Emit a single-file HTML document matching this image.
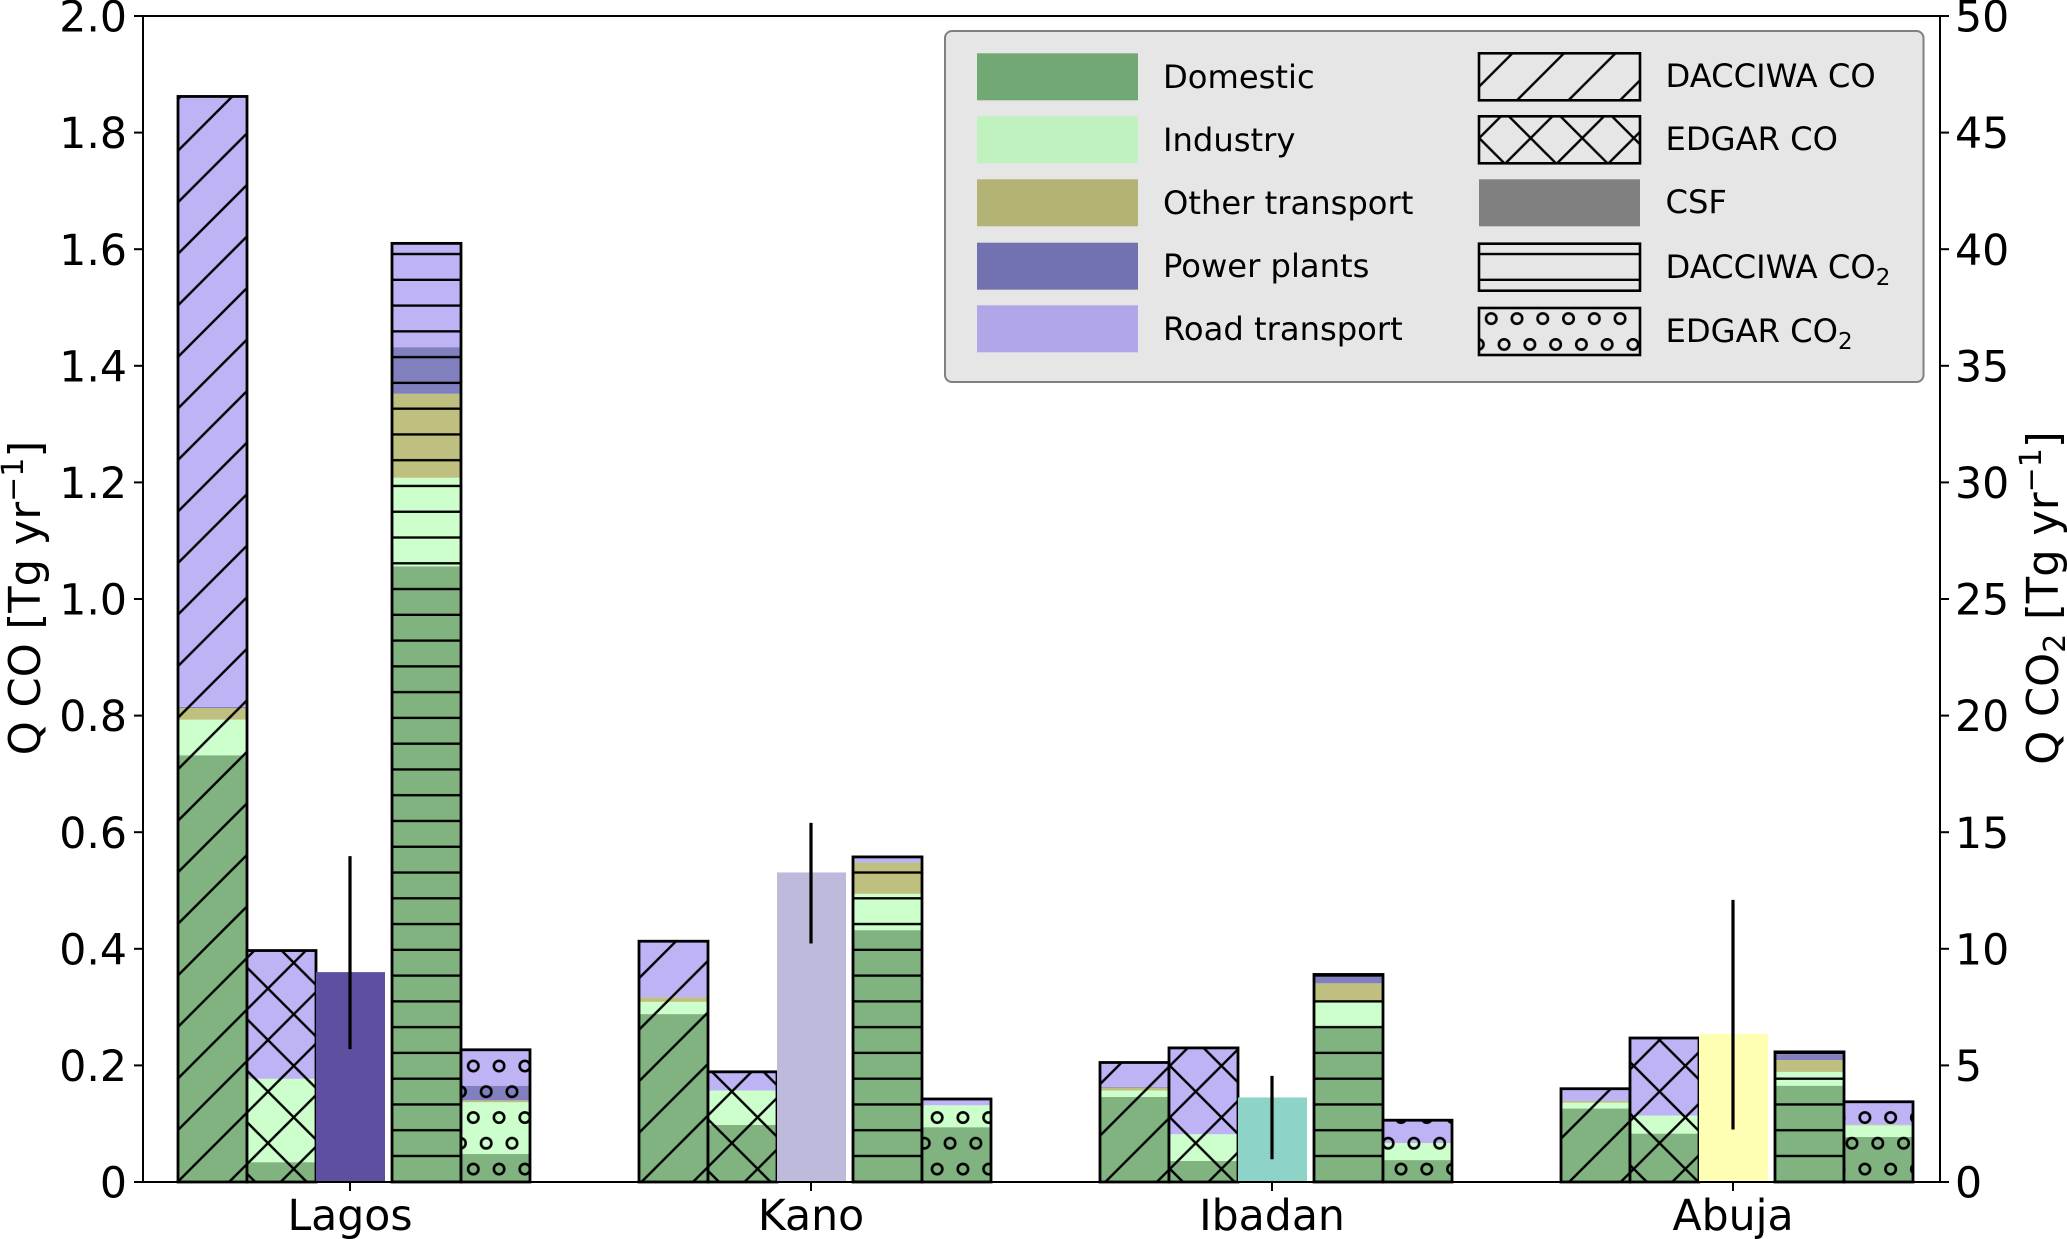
<!DOCTYPE html>
<html lang="en">
<head>
<meta charset="utf-8">
<title>Q CO and Q CO2 emissions by city</title>
<style>
html,body{margin:0;padding:0;background:#fff;}
svg{display:block;font-family:"DejaVu Sans","Liberation Sans",sans-serif;}
.tick-label{font-size:42.6px;fill:#000;}
.axis-title{font-size:43.2px;fill:#000;}
.legend-text{font-size:32.2px;fill:#000;}
</style>
</head>
<body>
<svg id="chart" width="2067" height="1239" viewBox="0 0 2067 1239" xmlns="http://www.w3.org/2000/svg">
  <defs>
    <pattern id="hatch-diag" patternUnits="userSpaceOnUse" width="51.54" height="51.54">
      <g stroke="#000" stroke-width="2.4" fill="none">
        <line x1="-10" y1="29.52" x2="29.52" y2="-10"/>
        <line x1="-10" y1="81.06" x2="81.06" y2="-10"/>
      </g>
    </pattern>
    <pattern id="hatch-cross" patternUnits="userSpaceOnUse" width="51.54" height="51.54">
      <g stroke="#000" stroke-width="2.4" fill="none">
        <line x1="-10" y1="29.52" x2="29.52" y2="-10"/>
        <line x1="-10" y1="81.06" x2="81.06" y2="-10"/>
        <line x1="-8.98" y1="-10" x2="61.02" y2="60"/>
        <line x1="-60.52" y1="-10" x2="9.48" y2="60"/>
        <line x1="42.56" y1="-10" x2="112.56" y2="60"/>
      </g>
    </pattern>
    <pattern id="hatch-horizontal" patternUnits="userSpaceOnUse" width="25.77" height="25.77">
      <line x1="-2" y1="22.12" x2="28" y2="22.12" stroke="#000" stroke-width="2.4"/>
    </pattern>
    <pattern id="hatch-circles" patternUnits="userSpaceOnUse" width="25.77" height="51.54">
      <g stroke="#000" stroke-width="2.6" fill="none">
        <circle cx="9.44" cy="35.2" r="5.2"/>
        <circle cx="22.34" cy="9.36" r="5.2"/>
        <circle cx="-3.43" cy="9.36" r="5.2"/>
      </g>
    </pattern>
  </defs>
  <rect x="0" y="0" width="2067" height="1239" fill="#fff"/>
  <g id="bars"></g>
  <g id="axes"></g>

  <g>
    <rect x="945" y="31" width="978.5" height="351" rx="7" fill="#e6e6e6" stroke="#808080" stroke-width="2"/>

    <g>
      <rect x="977" y="53.3" width="161" height="47" fill="#72a873"/>
      <text class="legend-text" x="1163" y="88">Domestic</text>
    </g>
    <g>
      <rect x="977" y="116.3" width="161" height="47" fill="#bff2be"/>
      <text class="legend-text" x="1163" y="151">Industry</text>
    </g>
    <g>
      <rect x="977" y="179.3" width="161" height="47" fill="#b3b375"/>
      <text class="legend-text" x="1163" y="214">Other transport</text>
    </g>
    <g>
      <rect x="977" y="242.7" width="161" height="47" fill="#7372b0"/>
      <text class="legend-text" x="1163" y="277">Power plants</text>
    </g>
    <g>
      <rect x="977" y="305.3" width="161" height="47" fill="#b0a6e8"/>
      <text class="legend-text" x="1163" y="340">Road transport</text>
    </g>

    <g>
      <rect x="1479" y="53.3" width="161" height="47" fill="url(#hatch-diag)" stroke="#000" stroke-width="2.6"/>
      <text class="legend-text" x="1665.5" y="87">DACCIWA CO</text>
    </g>
    <g>
      <rect x="1479" y="116.3" width="161" height="47" fill="url(#hatch-cross)" stroke="#000" stroke-width="2.6"/>
      <text class="legend-text" x="1665.5" y="150">EDGAR CO</text>
    </g>
    <g>
      <rect x="1479" y="179.3" width="161" height="47" fill="#808080"/>
      <text class="legend-text" x="1665.5" y="213">CSF</text>
    </g>
    <g>
      <rect x="1479" y="243.7" width="161" height="47" fill="url(#hatch-horizontal)" stroke="#000" stroke-width="2.6"/>
      <text class="legend-text" x="1665.5" y="278">DACCIWA CO<tspan font-size="23px" dy="7">2</tspan></text>
    </g>
    <g>
      <rect x="1479" y="308" width="161" height="47" fill="url(#hatch-circles)" stroke="#000" stroke-width="2.6"/>
      <text class="legend-text" x="1665.5" y="342">EDGAR CO<tspan font-size="23px" dy="7">2</tspan></text>
    </g>
  </g>

  <text class="axis-title" transform="translate(40,598) rotate(-90)" text-anchor="middle">Q CO [Tg yr<tspan font-size="30px" dy="-17">−1</tspan><tspan dy="17">]</tspan></text>
  <text class="axis-title" transform="translate(2058,598) rotate(-90)" text-anchor="middle">Q CO<tspan font-size="30px" dy="7">2</tspan><tspan dy="-7"> [Tg yr</tspan><tspan font-size="30px" dy="-17">−1</tspan><tspan dy="17">]</tspan></text>
</svg>

<script>
// Categories
const cities = ['Lagos', 'Kano', 'Ibadan', 'Abuja'];
const sectors = ['domestic', 'industry', 'other-transport', 'power-plants', 'road-transport'];

// Sector contributions per city, in the order of `sectors`. CO in Tg/yr (left axis).
const dacciwaCo = [
  [0.732, 0.061, 0.020, 0.002, 1.047],
  [0.288, 0.021, 0.008, 0.000, 0.096],
  [0.146, 0.011, 0.005, 0.001, 0.042],
  [0.126, 0.010, 0.003, 0.000, 0.021]
];
const edgarCo = [
  [0.034, 0.143, 0.000, 0.000, 0.220],
  [0.098, 0.059, 0.000, 0.000, 0.032],
  [0.036, 0.046, 0.000, 0.000, 0.148],
  [0.083, 0.031, 0.000, 0.000, 0.133]
];
// CO2 in Tg/yr (right axis).
const dacciwaCo2 = [
  [26.40, 3.80, 3.60, 2.00, 4.45],
  [10.80, 1.56, 1.34, 0.00, 0.24],
  [6.60, 1.10, 0.82, 0.28, 0.10],
  [4.13, 0.59, 0.51, 0.25, 0.10]
];
const edgarCo2 = [
  [1.20, 2.22, 0.08, 0.63, 1.54],
  [2.35, 0.94, 0.00, 0.00, 0.27],
  [0.94, 0.73, 0.00, 0.00, 0.98],
  [1.93, 0.50, 0.03, 0.00, 0.98]
];
// Mass-balance (CSF) estimates with uncertainty range, left axis.
const csfValues = [0.360, 0.531, 0.145, 0.254];
const csfLow = [0.228, 0.409, 0.039, 0.090];
const csfHigh = [0.559, 0.616, 0.182, 0.484];

// Tick labels
const leftTicks = ['0', '0.2', '0.4', '0.6', '0.8', '1.0', '1.2', '1.4', '1.6', '1.8', '2.0'];
const rightTicks = ['0', '5', '10', '15', '20', '25', '30', '35', '40', '45', '50'];

// Styles
const sectorColors = ['#81b380', '#ccffcc', '#bfbf80', '#8180bf', '#bdb3f5'];
const csfColors = ['#5f4fa0', '#bebadb', '#8dd3c7', '#ffffb3'];

// Axis functions
const plotLeft = 143, plotRight = 1940, plotTop = 16, plotBottom = 1182;
const yLeft = v => plotBottom - (v / 2) * (plotBottom - plotTop);
const yRight = v => plotBottom - (v / 50) * (plotBottom - plotTop);
const xCity = i => 350 + i * 461;
const barWidth = 69;

const NS = 'http://www.w3.org/2000/svg';
function make(tag, attrs, parent) {
  const node = document.createElementNS(NS, tag);
  for (const k in attrs) node.setAttribute(k, attrs[k]);
  parent.appendChild(node);
  return node;
}
const barsLayer = document.getElementById('bars');
const axesLayer = document.getElementById('axes');

function drawStack(values, city, left, yScale, hatchId, name) {
  let total = 0;
  const group = make('g', {}, barsLayer);
  
  
  values.forEach((v, s) => {
    if (v <= 0) return;
    const top = yScale(total + v), bottom = yScale(total);
    const seg = make('rect', { x: left, y: top, width: barWidth, height: bottom - top, fill: sectorColors[s] }, group);
    
    
    total += v;
  });
  const outline = make('rect', {
    x: left, y: yScale(total), width: barWidth, height: plotBottom - yScale(total),
    fill: 'url(#' + hatchId + ')', stroke: '#000', 'stroke-width': 2.8
  }, group);
  
  
}

cities.forEach((c, i) => {
  const cx = xCity(i);
  const csfLeft = cx - 34;
  drawStack(dacciwaCo[i], i, csfLeft - 2 * barWidth, yLeft, 'hatch-diag', 'dacciwa-co');
  drawStack(edgarCo[i], i, csfLeft - barWidth, yLeft, 'hatch-cross', 'edgar-co');
  drawStack(dacciwaCo2[i], i, cx + 42, yRight, 'hatch-horizontal', 'dacciwa-co2');
  drawStack(edgarCo2[i], i, cx + 42 + barWidth, yRight, 'hatch-circles', 'edgar-co2');

  const csf = make('rect', {
    x: csfLeft, y: yLeft(csfValues[i]), width: barWidth,
    height: plotBottom - yLeft(csfValues[i]), fill: csfColors[i]
  }, barsLayer);
  
  

  const err = make('line', {
    x1: cx, x2: cx, y1: yLeft(csfLow[i]), y2: yLeft(csfHigh[i]),
    stroke: '#000', 'stroke-width': 3.2
  }, barsLayer);
  
  

  const tick = make('line', { x1: cx, x2: cx, y1: plotBottom, y2: plotBottom + 9, stroke: '#000', 'stroke-width': 2 }, axesLayer);
  
  

  const label = make('text', { x: cx, y: 1230, 'text-anchor': 'middle', class: 'tick-label' }, axesLayer);
  label.textContent = c;
  
  
});

leftTicks.forEach(t => {
  const y = yLeft(parseFloat(t));
  const tick = make('line', { x1: plotLeft - 9, x2: plotLeft, y1: y, y2: y, stroke: '#000', 'stroke-width': 2 }, axesLayer);
  
  
  const label = make('text', { x: plotLeft - 16, y: y + 15.6, 'text-anchor': 'end', class: 'tick-label' }, axesLayer);
  label.textContent = t;
  
  
});

rightTicks.forEach(t => {
  const y = yRight(parseFloat(t));
  const tick = make('line', { x1: plotRight, x2: plotRight + 9, y1: y, y2: y, stroke: '#000', 'stroke-width': 2 }, axesLayer);
  
  
  const label = make('text', { x: plotRight + 15, y: y + 15.6, 'text-anchor': 'start', class: 'tick-label' }, axesLayer);
  label.textContent = t;
  
  
});

const frame = make('rect', {
  x: plotLeft, y: plotTop, width: plotRight - plotLeft, height: plotBottom - plotTop,
  fill: 'none', stroke: '#000', 'stroke-width': 2
}, axesLayer);


</script>
</body>
</html>
